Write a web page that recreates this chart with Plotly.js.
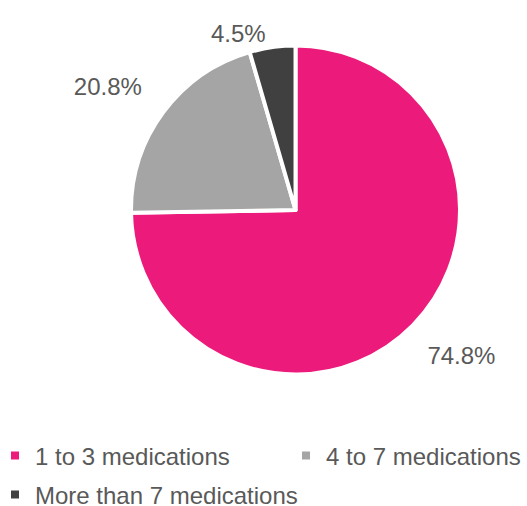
<!DOCTYPE html>
<html><head><meta charset="utf-8">
<script src="https://cdn.plot.ly/plotly-3.0.1.min.js"></script>
<style>html,body{margin:0;padding:0;background:#fff}</style>
</head><body>
<div id="chart" style="width:527px;height:506px"></div>
<script>
const categories = ["1 to 3 medications", "4 to 7 medications", "More than 7 medications"];
const shares = [74.8, 20.8, 4.5];
const labelText = shares.map(v => v.toFixed(1) + "%");
const colors = ["#ec1b7b", "#a5a5a5", "#404040"];
const textColor = "#595959";
const font = "Liberation Sans, Arial, sans-serif";
const NB = "\u00a0";
// small spacing tweaks so Plotly's outside labels sit where the reference puts them
const labelTemplates = [NB + "<br>%{text}", "%{text}" + NB + "<br>" + NB, "%{text}"];

const pie = {
  type: "pie",
  labels: categories,
  values: shares,
  sort: false,
  direction: "clockwise",
  rotation: 0,
  marker: {colors: colors, line: {color: "#ffffff", width: 4}},
  text: labelText,
  texttemplate: labelTemplates,
  textposition: "outside",
  outsidetextfont: {size: 24, color: textColor, family: font},
  showlegend: false,
  hoverinfo: "label+percent",
  automargin: false,
  domain: {x: [0.2486, 0.8729], y: [0.2599, 0.9101]}
};

const legendNames = ["legend", "legend2", "legend3"];
const legendTraces = categories.map((c, i) => ({
  type: "scatter", mode: "markers", x: [null], y: [null], name: c,
  marker: {symbol: "square", size: 8, color: colors[i]},
  legend: legendNames[i], hoverinfo: "skip"
}));

const legendBase = {orientation: "h", xanchor: "left", yanchor: "middle",
  font: {size: 24, color: textColor, family: font}, bgcolor: "rgba(0,0,0,0)"};

const layout = {
  width: 527, height: 506,
  margin: {l: 0, r: 0, t: 0, b: 0, autoexpand: false},
  paper_bgcolor: "#fff", plot_bgcolor: "rgba(0,0,0,0)",
  font: {family: font, color: textColor, size: 24},
  xaxis: {visible: false}, yaxis: {visible: false},
  legend: Object.assign({}, legendBase, {x: -5/527, y: 1 - 456/506}),
  legend2: Object.assign({}, legendBase, {x: 286/527, y: 1 - 456/506}),
  legend3: Object.assign({}, legendBase, {x: -5/527, y: 1 - 495/506}),
  showlegend: true
};

Plotly.newPlot("chart", [pie, ...legendTraces], layout, {displayModeBar: false, staticPlot: true});
</script>
</body></html>
